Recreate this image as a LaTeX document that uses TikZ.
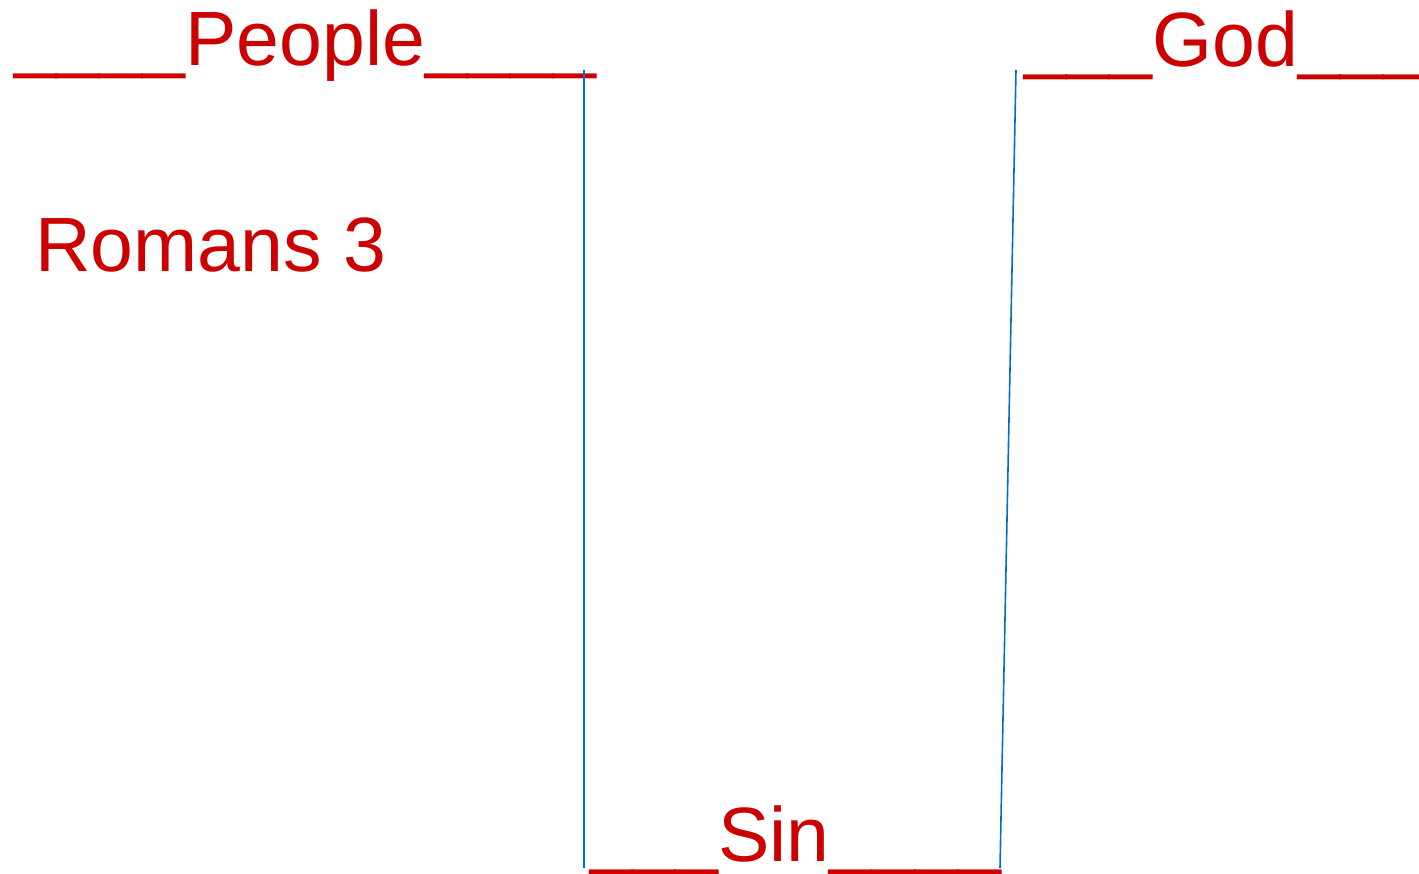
\documentclass[tikz,border=0pt]{standalone}
\usepackage{fontspec}
\setmainfont{Liberation Sans}
\definecolor{txtred}{RGB}{204,0,0}
\definecolor{lineblue}{RGB}{0,112,192}
\newcommand{\ubar}[1]{\raisebox{2pt}{#1}}
\tikzset{
  lbl/.style={text=txtred, inner sep=0pt, outer sep=0pt, anchor=base west, font=\fontsize{77}{90}\selectfont},
  wall/.style={draw=lineblue, line width=1.6pt}
}
\begin{document}
\begin{tikzpicture}[x=1pt,y=-1pt]
\useasboundingbox (0,0) rectangle (1419,873);
\node[lbl] (people) at (14,65) {\ubar{\_\_\_\_}People\ubar{\_\_\_\_}};
\node[lbl] (god) at (1024,66) {\ubar{\_\_\_}God\ubar{\_\_\_}};
\node[lbl] (sin) at (590,861) {\ubar{\_\_\_}Sin\ubar{\_\_\_\_}};
\node[lbl] (romans) at (35,271) {Romans 3};
\coordinate (a1) at (584,70);
\coordinate (a2) at (584,868);
\coordinate (b1) at (1016,70);
\coordinate (b2) at (1000,868);
\draw[wall] (a1) -- (a2);
\draw[wall] (b1) -- (b2);
\end{tikzpicture}
\end{document}
